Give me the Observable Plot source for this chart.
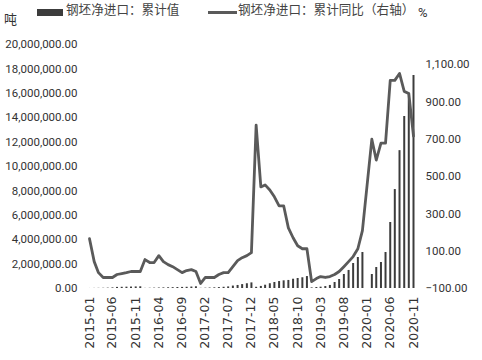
<!DOCTYPE html>
<html>
<head>
<meta charset="utf-8">
<script src="https://cdn.jsdelivr.net/npm/d3@7"></script>
<script src="https://cdn.jsdelivr.net/npm/@observablehq/plot@0.6"></script>
<style>
  html, body { margin: 0; padding: 0; background: #fff; }
  #wrap { position: relative; width: 482px; height: 360px; overflow: hidden; font-family: "Noto Sans CJK SC", sans-serif; color: #333; }
  #legend { position: absolute; left: 0; top: 0; width: 482px; height: 28px; }
  #legend span { position: absolute; white-space: nowrap; }
  #chart { position: absolute; left: 0; top: 28px; }
</style>
</head>
<body>
<div id="wrap">
  <div id="legend"></div>
  <div id="chart"></div>
</div>
<script>
// ---- Data ----
const startMonth = "2015-01";
const endMonth = "2020-11";
const xTickLabels = ["2015-01","2015-06","2015-11","2016-04","2016-09","2017-02","2017-07","2017-12","2018-05","2018-10","2019-03","2019-08","2020-01","2020-06","2020-11"];
const leftTicks = [0, 2000000, 4000000, 6000000, 8000000, 10000000, 12000000, 14000000, 16000000, 18000000, 20000000];
const rightTicks = [-100, 100, 300, 500, 700, 900, 1100];
const seriesNames = ["钢坯净进口：累计值", "钢坯净进口：累计同比（右轴）"];
const leftUnit = "吨";
const rightUnit = "%";

// cumulative net imports (tonnes), monthly 2015-01 .. 2020-11 (2020-01 not reported)
const barValues = [
  5000, 10000, 15000, 20000, 30000, 50000, 90000, 100000, 110000, 120000, 130000, 140000,
  10000, 20000, 30000, 40000, 50000, 60000, 70000, 80000, 90000, 100000, 120000, 140000,
  15000, 25000, 40000, 55000, 75000, 100000, 130000, 200000, 250000, 320000, 390000, 460000,
  100000, 170000, 270000, 390000, 490000, 570000, 630000, 660000, 760000, 820000, 880000, 980000,
  50000, 80000, 110000, 160000, 250000, 490000, 740000, 1150000, 1480000, 2050000, 2540000, 2950000,
  null, 1150000, 1720000, 2130000, 2950000, 5410000, 8110000, 11300000, 14100000, 16000000, 17460000
];
// cumulative YoY (%), right axis
const pctValues = [
  167, 44, -15, -41, -41, -41, -25, -20, -15, -9, -9, -9,
  55, 39, 39, 76, 44, 28, 17, 1, -15, -4, 1, -9,
  -73, -41, -41, -41, -25, -15, -15, 17, 49, 65, 76, 92,
  775, 444, 455, 428, 391, 343, 343, 225, 172, 129, 113, 113,
  -63, -47, -36, -41, -36, -25, -9, 17, 44, 71, 113, 210,
  null, 700, 588, 679, 679, 1015, 1015, 1052, 956, 945, 716
];

// ---- Build table ----
const parse = d3.utcParse("%Y-%m");
const months = d3.utcMonth.range(parse(startMonth), d3.utcMonth.offset(parse(endMonth), 1));
const table = months.map((date, i) => ({date, bar: barValues[i], pct: pctValues[i]}));
const xTicks = xTickLabels.map(parse);

// right axis (-100..~1207) mapped onto left axis (0..20,000,000)
const K = 15300;
const toLeft = v => (v + 100) * K;
const fromLeft = v => v / K - 100;
const fmt = d3.format(",.2f");

const barColor = "#3c3c3c";
const lineColor = "#5a5a5a";

// ---- Legend ----
const legend = document.getElementById("legend");
legend.innerHTML = `
  <span style="left:4px;top:9px;font-size:13px;">${leftUnit}</span>
  <span style="left:37px;top:9px;width:26px;height:7px;background:${barColor};"></span>
  <span style="left:66px;top:-1px;font-size:12.6px;color:#444;">${seriesNames[0]}</span>
  <span style="left:208px;top:11px;width:29px;height:3px;background:${lineColor};"></span>
  <span style="left:238px;top:-1px;font-size:12.6px;color:#444;">${seriesNames[1]}</span>
  <span style="left:418px;top:5px;font-size:13px;font-family:Roboto,sans-serif;">${rightUnit}</span>
`;

// ---- Chart ----
const chart = Plot.plot({
  width: 482,
  height: 332,
  marginTop: 16,
  marginBottom: 72,
  marginLeft: 89,
  marginRight: 69,
  style: {fontFamily: "Roboto, sans-serif", fontSize: "11px", color: "#333", background: "#fff"},
  x: {type: "utc", domain: [months[0], months[months.length - 1]]},
  y: {domain: [0, 20000000], nice: false},
  marks: [
    Plot.ruleX(table.filter(d => d.bar != null), {x: "date", y1: 0, y2: "bar", stroke: barColor, strokeWidth: 2}),
    Plot.line(table.filter(d => d.pct != null), {x: "date", y: d => toLeft(d.pct), stroke: lineColor, strokeWidth: 2.8, strokeLinejoin: "round"}),
    Plot.axisY({anchor: "left", ticks: leftTicks, tickFormat: fmt, tickSize: 0, tickPadding: 12, label: null, fontSize: 11.5}),
    Plot.axisY({anchor: "right", ticks: rightTicks.map(toLeft), tickFormat: d => fmt(Math.round(fromLeft(d))), tickSize: 0, tickPadding: 12, label: null, fontSize: 11.5}),
    Plot.axisX({ticks: xTicks, tickFormat: d3.utcFormat("%Y-%m"), tickRotate: -90, tickSize: 0, tickPadding: 8, label: null, fontSize: 12.5, fontFamily: "DejaVu Sans"})
  ]
});
document.getElementById("chart").appendChild(chart);
</script>
</body>
</html>
